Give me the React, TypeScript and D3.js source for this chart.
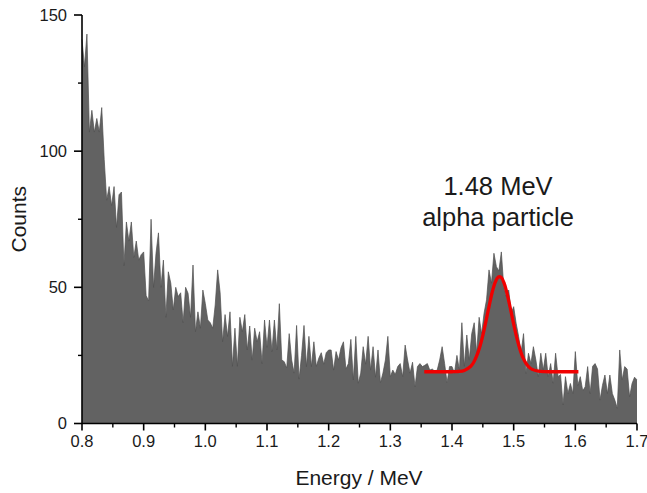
import React from 'react';
import * as d3 from 'd3';

// Histogram: bins start at 0.8 MeV, step 0.004 MeV
const E_START = 0.8;
const E_STEP = 0.004;
const counts = [
  141, 131, 143, 107, 115, 107, 112, 107, 116, 97,
  82, 87, 80, 87, 72, 84, 85, 58, 74, 67,
  74, 61, 67, 60, 62, 63, 47, 45, 75, 50,
  62.5, 70, 50, 60, 39, 55.7, 51.5, 41.7, 50, 46.6,
  48, 37, 50, 47.8, 39, 58.2, 33.7, 41, 35, 49,
  44, 38, 37, 35, 43.5, 56.4, 48, 30, 40, 32,
  41, 21, 35, 21, 39, 33.7, 40, 27, 35.8, 23.3,
  35, 30, 33.7, 22, 38, 28, 38, 26.4, 38, 27,
  44, 23.3, 22.7, 20.4, 33, 23.3, 18.5, 36, 16.3, 25,
  36, 20.9, 32, 20.9, 30, 21, 24, 26, 21.8, 26,
  27, 27, 19.6, 26.4, 23.3, 27.8, 30, 20, 22, 30.9,
  16, 32, 14.8, 18.5, 28.2, 21.8, 32, 19.6, 28.2, 17,
  27, 15, 18.5, 23.3, 32, 17.2, 19.6, 18, 20.9, 22,
  17.2, 28.8, 23.3, 18.5, 22.5, 13.5, 20.9, 22, 20.9, 21.4,
  22, 19.6, 20, 19.2, 19.6, 23.3, 28.2, 22, 15, 20.9,
  20.9, 18.5, 25, 19.6, 37, 21, 32.5, 23.3, 33, 37,
  25.8, 39, 33, 40.5, 45.4, 56.4, 51.5, 62.5, 57.6, 56,
  63, 50, 46.6, 49, 40.5, 42.9, 36.8, 32, 26, 33,
  18.4, 25.8, 22, 28.2, 23.3, 17.2, 25.8, 19.6, 25.8, 17.2,
  22, 14.8, 25.8, 17.2, 18, 6.8, 17.2, 11, 14.7, 11,
  26.4, 14, 17.2, 12, 13.5, 20.9, 11, 21, 22, 20,
  8.6, 14, 17.8, 11, 17.8, 11, 8.6, 5.6, 27, 16,
  20.9, 20, 9.8, 14.7, 17, 16,
];

// Gaussian fit
const fitEnergy = [1.355, 1.37, 1.38, 1.39, 1.40, 1.41, 1.42, 1.43, 1.435, 1.44, 1.445, 1.45, 1.455, 1.46, 1.465, 1.47, 1.475, 1.48, 1.485, 1.49, 1.495, 1.50, 1.505, 1.51, 1.515, 1.52, 1.525, 1.53, 1.54, 1.55, 1.56, 1.58, 1.605];
const fitCounts = [19.0, 19.0, 19.0, 19.0, 19.01, 19.09, 19.49, 20.93, 22.4, 24.8, 28.1, 32.4, 37.5, 42.9, 48.0, 51.8, 53.8, 53.6, 51.2, 47.0, 41.9, 36.5, 31.5, 27.4, 24.2, 22.1, 20.7, 19.87, 19.19, 19.03, 19.0, 19.0, 19.0];

const xTicks = [0.8, 0.9, 1.0, 1.1, 1.2, 1.3, 1.4, 1.5, 1.6, 1.7];
const xMinorTicks = [0.85, 0.95, 1.05, 1.15, 1.25, 1.35, 1.45, 1.55, 1.65];
const yTicks = [0, 50, 100, 150];
const yMinorTicks = [25, 75, 125];

const W = 647;
const H = 493;
const left = 82;
const right = 637;
const top = 15;
const bottom = 423.5;
const FONT = 'Arial, "Liberation Sans", Helvetica, sans-serif';

export default function App() {
  const x = d3.scaleLinear().domain([0.8, 1.7]).range([left, right]);
  const y = d3.scaleLinear().domain([0, 150]).range([bottom, top]);

  const data = counts.map((c, i) => ({ e: E_START + i * E_STEP, c }));
  const area = d3
    .area<{ e: number; c: number }>()
    .x((d) => x(d.e))
    .y0(y(0))
    .y1((d) => y(d.c));
  const topLine = d3
    .line<{ e: number; c: number }>()
    .x((d) => x(d.e))
    .y((d) => y(d.c));

  const fit = fitEnergy.map((e, i) => ({ e, c: fitCounts[i] }));
  const fitLine = d3
    .line<{ e: number; c: number }>()
    .x((d) => x(d.e))
    .y((d) => y(d.c))
    .curve(d3.curveCatmullRom);

  return (
    <svg
      width={W}
      height={H}
      style={{ position: 'absolute', left: 0, top: 0, background: '#fff' }}
      fontFamily={FONT}
    >
      <path d={area(data) || ''} fill="#626262" />
      <path d={topLine(data) || ''} fill="none" stroke="#4f4f4f" strokeWidth={0.7} />
      <path d={fitLine(fit) || ''} fill="none" stroke="#f00000" strokeWidth={3.3} strokeLinejoin="round" />

      {/* axes */}
      <line x1={left} x2={left} y1={top} y2={bottom} stroke="#000" strokeWidth={1.6} />
      <line x1={left} x2={right} y1={bottom} y2={bottom} stroke="#000" strokeWidth={1.6} />

      {yTicks.map((t) => (
        <g key={'y' + t}>
          <line x1={left - 8} x2={left} y1={y(t)} y2={y(t)} stroke="#000" strokeWidth={1.6} />
          <text x={left - 15} y={y(t)} dy="0.36em" textAnchor="end" fontSize={16.5} fill="#1a1a1a">
            {t}
          </text>
        </g>
      ))}
      {yMinorTicks.map((t) => (
        <line key={'ym' + t} x1={left - 4} x2={left} y1={y(t)} y2={y(t)} stroke="#000" strokeWidth={1.4} />
      ))}
      {xTicks.map((t) => (
        <g key={'x' + t}>
          <line x1={x(t)} x2={x(t)} y1={bottom} y2={bottom + 7} stroke="#000" strokeWidth={1.6} />
          <text x={x(t)} y={bottom + 23} textAnchor="middle" fontSize={16.5} fill="#1a1a1a">
            {t.toFixed(1)}
          </text>
        </g>
      ))}
      {xMinorTicks.map((t) => (
        <line key={'xm' + t} x1={x(t)} x2={x(t)} y1={bottom} y2={bottom + 4} stroke="#000" strokeWidth={1.4} />
      ))}

      <text x={359} y={485} textAnchor="middle" fontSize={21} fill="#1a1a1a">
        Energy / MeV
      </text>
      <text
        transform={`translate(26, ${(top + bottom) / 2}) rotate(-90)`}
        textAnchor="middle"
        fontSize={21}
        fill="#1a1a1a"
      >
        Counts
      </text>

      <text x={498} y={195} textAnchor="middle" fontSize={25.5} fill="#1a1a1a">
        1.48 MeV
      </text>
      <text x={498} y={226} textAnchor="middle" fontSize={25.5} fill="#1a1a1a">
        alpha particle
      </text>
    </svg>
  );
}
